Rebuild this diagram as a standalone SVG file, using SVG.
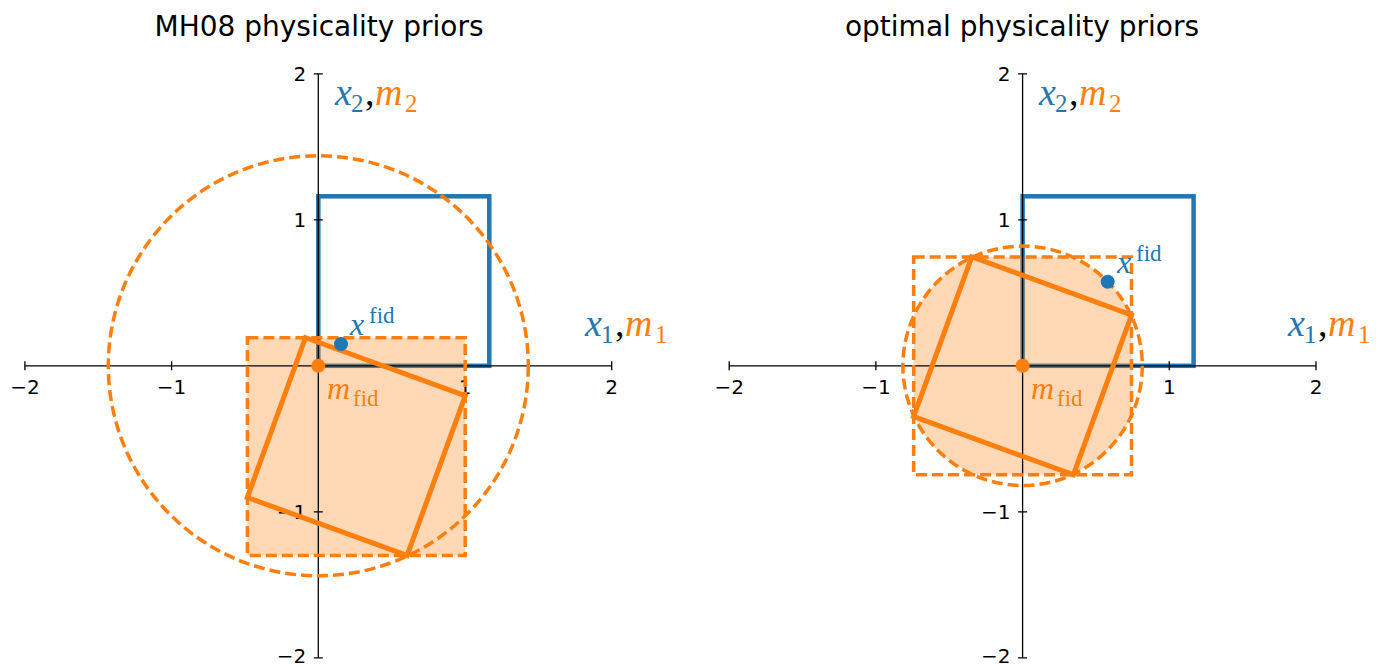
<svg xmlns="http://www.w3.org/2000/svg" width="1376" height="666" viewBox="0 0 1376 666">
<style>
.title{font-family:"DejaVu Sans",sans-serif;font-size:28px;fill:#000;text-anchor:middle}
.tick{font-family:"DejaVu Sans",sans-serif;font-size:20px;fill:#000}
.tx{text-anchor:middle}
.ty{text-anchor:end}
.axis{stroke:#000;stroke-width:1.3;fill:none}
.blue{stroke:#1f77b4;stroke-width:4.5;fill:none;stroke-linejoin:miter}
.fill{fill:#ff7f0e;fill-opacity:0.3;stroke:none}
.rot{stroke:#ff7f0e;stroke-width:5;fill:none;stroke-linejoin:miter}
.dash{stroke:#ff7f0e;stroke-width:3.5;fill:none;stroke-dasharray:11 5}
.mi{font-family:"Liberation Serif","Times New Roman",serif;font-style:italic}
.mr{font-family:"Liberation Serif","Times New Roman",serif}
.b{fill:#1f77b4}
.o{fill:#ff7f0e}
.k{fill:#000}
</style>
<defs>
<clipPath id="clipR"><circle cx="0" cy="0" r="119.7"/></clipPath>
</defs>
<rect width="1376" height="666" fill="#fff"/>

<!-- LEFT PANEL -->
<g id="left-panel">
<text class="title" x="319" y="36">MH08 physicality priors</text>
<g transform="translate(318.3,365.8)">
  <g id="L-x-region"><rect class="blue" x="0" y="-169.5" width="171" height="169.5"/></g>
  <g id="L-fill"><rect class="fill" x="-70.9" y="-28.1" width="217.8" height="217.8"/></g>
  <g id="L-axes">
    <line class="axis" x1="-293.4" y1="0" x2="293.4" y2="0"/>
    <line class="axis" x1="0" y1="-292" x2="0" y2="292"/>
    <path class="axis" d="M-293.4,-4.5V4.5M-146.7,-4.5V4.5M146.7,-4.5V4.5M293.4,-4.5V4.5M-4.5,-292H4.5M-4.5,-146H4.5M-4.5,146H4.5M-4.5,292H4.5"/>
    <text class="tick tx" x="-293.4" y="28">−2</text>
    <text class="tick tx" x="-146.7" y="28">−1</text>
    <text class="tick tx" x="146.7" y="28">1</text>
    <text class="tick tx" x="293.4" y="28">2</text>
    <text class="tick ty" x="-12" y="-285">2</text>
    <text class="tick ty" x="-12" y="-139">1</text>
    <text class="tick ty" x="-12" y="153">−1</text>
    <text class="tick ty" x="-12" y="297.5">−2</text>
  </g>
  <g id="L-m-region"><rect class="rot" x="-85" y="-85" width="170" height="170" transform="translate(38,80.8) rotate(20)"/></g>
  <g id="L-box"><rect class="dash" x="-70.9" y="-28.1" width="217.8" height="217.8"/></g>
  <g id="L-circle"><circle class="dash" cx="0" cy="0" r="210"/></g>
  <g id="L-xfid"><circle class="b" cx="22.7" cy="-21.7" r="7"/></g>
  <g id="L-mfid"><circle class="o" cx="0" cy="0" r="7"/></g>
</g>
<g id="L-labels">
  <text class="mi b" x="350" y="335" font-size="32">x</text>
  <text class="mr b" x="369" y="323" font-size="23">fid</text>
  <text class="mi o" x="327" y="399" font-size="32">m</text>
  <text class="mr o" x="353" y="406" font-size="23">fid</text>
  <text class="mi b" x="335" y="105" font-size="38">x</text>
  <text class="mr b" x="351" y="112" font-size="25">2</text>
  <text class="mr k" x="365" y="105" font-size="38">,</text>
  <text class="mi o" x="375" y="105" font-size="38">m</text>
  <text class="mr o" x="405" y="112" font-size="25">2</text>
  <text class="mi b" x="585" y="336" font-size="38">x</text>
  <text class="mr b" x="601" y="343" font-size="25">1</text>
  <text class="mr k" x="615" y="336" font-size="38">,</text>
  <text class="mi o" x="625" y="336" font-size="38">m</text>
  <text class="mr o" x="655" y="343" font-size="25">1</text>
</g>
</g>

<!-- RIGHT PANEL -->
<g id="right-panel">
<text class="title" x="1022" y="36">optimal physicality priors</text>
<g transform="translate(1022.6,365.8)">
  <g id="R-x-region"><rect class="blue" x="0" y="-169.5" width="171" height="169.5"/></g>
  <g id="R-fill"><rect class="fill" x="-108.9" y="-108.9" width="217.8" height="217.8" clip-path="url(#clipR)"/></g>
  <g id="R-axes">
    <line class="axis" x1="-293.4" y1="0" x2="293.4" y2="0"/>
    <line class="axis" x1="0" y1="-292" x2="0" y2="292"/>
    <path class="axis" d="M-293.4,-4.5V4.5M-146.7,-4.5V4.5M146.7,-4.5V4.5M293.4,-4.5V4.5M-4.5,-292H4.5M-4.5,-146H4.5M-4.5,146H4.5M-4.5,292H4.5"/>
    <text class="tick tx" x="-293.4" y="28">−2</text>
    <text class="tick tx" x="-146.7" y="28">−1</text>
    <text class="tick tx" x="146.7" y="28">1</text>
    <text class="tick tx" x="293.4" y="28">2</text>
    <text class="tick ty" x="-12" y="-285">2</text>
    <text class="tick ty" x="-12" y="-139">1</text>
    <text class="tick ty" x="-12" y="153">−1</text>
    <text class="tick ty" x="-12" y="297.5">−2</text>
  </g>
  <g id="R-m-region"><rect class="rot" x="-85" y="-85" width="170" height="170" transform="rotate(20)"/></g>
  <g id="R-box"><rect class="dash" x="-108.9" y="-108.9" width="217.8" height="217.8"/></g>
  <g id="R-circle"><circle class="dash" cx="0" cy="0" r="119.7"/></g>
  <g id="R-xfid"><circle class="b" cx="85.1" cy="-84.1" r="7"/></g>
  <g id="R-mfid"><circle class="o" cx="0" cy="0" r="7"/></g>
</g>
<g id="R-labels">
  <text class="mi b" x="1117" y="273" font-size="32">x</text>
  <text class="mr b" x="1136" y="261" font-size="23">fid</text>
  <text class="mi o" x="1031" y="399" font-size="32">m</text>
  <text class="mr o" x="1057" y="406" font-size="23">fid</text>
  <text class="mi b" x="1039" y="105" font-size="38">x</text>
  <text class="mr b" x="1055" y="112" font-size="25">2</text>
  <text class="mr k" x="1069" y="105" font-size="38">,</text>
  <text class="mi o" x="1079" y="105" font-size="38">m</text>
  <text class="mr o" x="1109" y="112" font-size="25">2</text>
  <text class="mi b" x="1288" y="336" font-size="38">x</text>
  <text class="mr b" x="1304" y="343" font-size="25">1</text>
  <text class="mr k" x="1318" y="336" font-size="38">,</text>
  <text class="mi o" x="1328" y="336" font-size="38">m</text>
  <text class="mr o" x="1358" y="343" font-size="25">1</text>
</g>
</g>
</svg>
